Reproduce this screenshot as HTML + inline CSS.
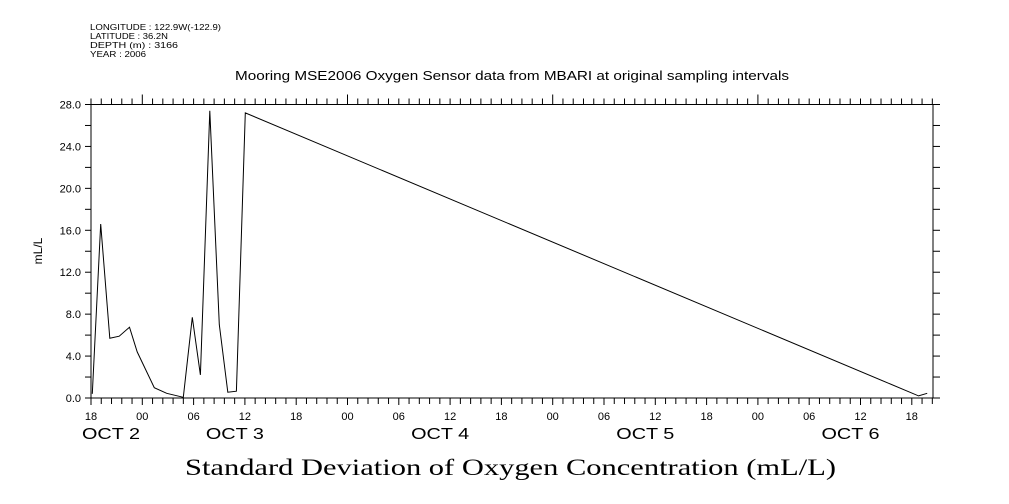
<!DOCTYPE html>
<html><head><meta charset="utf-8"><style>
html,body{margin:0;padding:0;background:#fff;}
svg{display:block;font-family:"Liberation Sans",sans-serif;}
</style></head><body>
<svg id="chart" width="1009" height="504" viewBox="0 0 1009 504">
<g font-size="8" fill="#000">
<text x="90" y="30" textLength="131" lengthAdjust="spacingAndGlyphs">LONGITUDE : 122.9W(-122.9)</text>
<text x="90" y="39" textLength="78" lengthAdjust="spacingAndGlyphs">LATITUDE : 36.2N</text>
<text x="90" y="48" textLength="88" lengthAdjust="spacingAndGlyphs">DEPTH (m) : 3166</text>
<text x="90" y="57" textLength="56" lengthAdjust="spacingAndGlyphs">YEAR : 2006</text>
</g>
<text x="235" y="80" font-size="13" textLength="554" lengthAdjust="spacingAndGlyphs">Mooring MSE2006 Oxygen Sensor data from MBARI at original sampling intervals</text>
<text x="185" y="475" font-size="23" textLength="651" lengthAdjust="spacingAndGlyphs" font-family="Liberation Serif, serif">Standard Deviation of Oxygen Concentration (mL/L)</text>
<text transform="translate(42,251) rotate(-90)" font-size="12" text-anchor="middle">mL/L</text>
<rect x="91" y="104.5" width="842" height="293.5" fill="none" stroke="#000" stroke-width="1"/>
<g id="ticks"></g>
<g id="labels"></g>
<polyline id="line" fill="none" stroke="#000" stroke-width="1"/>
</svg>
<script>
// hours since Oct 2 18:00
const hours = [0.15,1.13,2.2,3.3,4.5,5.4,7.4,8.85,10.8,11.85,12.8,13.9,15.0,16.0,17.0,18.05,96.8,97.8];
const values = [0.4,16.6,5.7,5.9,6.75,4.4,0.98,0.45,0.07,7.7,2.2,27.4,7.0,0.55,0.65,27.2,0.2,0.45];
const yTicks = [0,4,8,12,16,20,24,28];
const yTickLabels = ["0.0","4.0","8.0","12.0","16.0","20.0","24.0","28.0"];
const hourLabels = ["18","00","06","12"];
const dayLabels = ["OCT  2","OCT  3","OCT  4","OCT  5","OCT  6"];

const X0=91, PXH=8.55, Y0=398, PXV=(398-104.5)/28, XR=933;
const xs = t => X0 + t*PXH;
const ys = v => Y0 - v*PXV;
const NS="http://www.w3.org/2000/svg";
const tk=document.getElementById('ticks'), lb=document.getElementById('labels');
function ln(x1,y1,x2,y2,name){const l=document.createElementNS(NS,'line');
l.setAttribute('x1',x1);l.setAttribute('y1',y1);l.setAttribute('x2',x2);l.setAttribute('y2',y2);l.setAttribute('stroke','#000');


tk.appendChild(l);}
function tx(x,y,s,size,anchor,name,len){const t=document.createElementNS(NS,'text');
t.setAttribute('x',x);t.setAttribute('y',y);t.setAttribute('font-size',size);t.setAttribute('text-anchor',anchor);t.textContent=s;
if(len){t.setAttribute('textLength',len);t.setAttribute('lengthAdjust','spacingAndGlyphs');}


lb.appendChild(t);}
for(let k=0;k<=100;k++){
  const t=k*1.2; const x=xs(t); if(x>XR+0.5) break;
  const major = k%5===0;
  const dayB = major && ((k/5)%4===1);
  ln(x,Y0,x,Y0+(major?7:6),'x-tick');
  ln(x,104.5,x,104.5-(dayB?10:6),'x-tick-top');
  if(major){ tx(x,420,hourLabels[(k/5)%4],11,'middle','x-tick-label'); }
}
dayLabels.forEach((d,i)=>{ const x = i===0 ? 82 : xs(18+24*(i-1))-39; tx(x,439,d,16,'start','day-label',58); });
for(let v=0;v<=28;v+=2){ const y=ys(v); ln(X0-6,y,X0,y,'y-tick'); ln(XR,y,XR+7,y,'y-tick-right'); }
yTicks.forEach((v,i)=>tx(X0-10,ys(v)+4,yTickLabels[i],11,'end','y-tick-label'));
document.getElementById('line').setAttribute('points',hours.map((h,i)=>xs(h).toFixed(1)+','+ys(values[i]).toFixed(1)).join(' '));
</script>
</body></html>
